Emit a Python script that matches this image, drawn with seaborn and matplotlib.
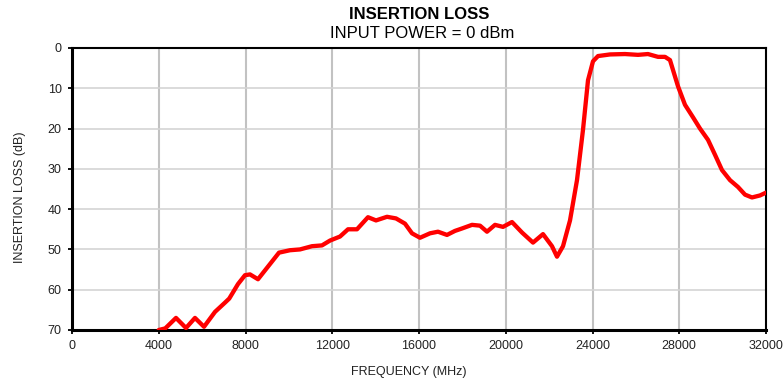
import matplotlib
matplotlib.use("Agg")
import matplotlib.pyplot as plt
import seaborn as sns
import pandas as pd

freq_mhz = [4000, 4300, 4795, 5257, 5670, 6087, 6594, 7055, 7250, 7654, 7977, 8207,
            8576, 8899, 9545, 10050, 10513, 11066, 11527, 11896, 12358, 12727, 13141,
            13648, 14017, 14524, 14939, 15354, 15677, 16046, 16507, 16876, 17291,
            17660, 17983, 18444, 18813, 19135, 19504, 19873, 20288, 20749, 21257,
            21718, 22133, 22363, 22640, 22963, 23285, 23562, 23793, 24023, 24254,
            24807, 25499, 26098, 26559, 27020, 27343, 27573, 27942, 28265, 28634,
            28957, 29326, 29648, 29971, 30340, 30709, 31032, 31354, 31723, 32000]
loss_db = [70.0, 69.6, 67.0, 69.5, 67.0, 69.2, 65.5, 63.2, 62.2, 58.6, 56.4, 56.2,
           57.4, 55.2, 50.8, 50.2, 50.0, 49.2, 49.0, 47.8, 46.8, 45.0, 45.0,
           42.0, 42.8, 41.9, 42.3, 43.6, 46.0, 47.1, 46.0, 45.6, 46.4,
           45.4, 44.8, 43.9, 44.1, 45.6, 43.9, 44.4, 43.2, 45.8, 48.3,
           46.2, 49.2, 51.8, 49.2, 42.8, 32.8, 20.3, 8.0, 3.3, 2.0,
           1.6, 1.5, 1.7, 1.5, 2.2, 2.2, 3.0, 9.5, 14.1, 17.2,
           20.0, 22.8, 26.5, 30.3, 32.8, 34.5, 36.4, 37.1, 36.6, 35.9]

x_ticks = [0, 4000, 8000, 12000, 16000, 20000, 24000, 28000, 32000]
y_ticks = [0, 10, 20, 30, 40, 50, 60, 70]

df = pd.DataFrame({"freq": freq_mhz, "loss": loss_db})

sns.set_theme(style="white")
plt.rcParams["font.family"] = ["Liberation Sans", "DejaVu Sans"]

fig = plt.figure(figsize=(7.84, 3.85), dpi=100)
ax = fig.add_axes([72/784, 1-330/385, 694/784, 282/385])

for xv in x_ticks[1:-1]:
    ax.axvline(xv, color="#c2c2c2", lw=1.5, zorder=1)
for yv in y_ticks[1:-1]:
    ax.axhline(yv, color="#d4d4d4", lw=1.2, zorder=1)

sns.lineplot(data=df, x="freq", y="loss", ax=ax, color="#ff0000", lw=3.1,
             zorder=3, solid_capstyle="round", solid_joinstyle="round")

ax.set_xlim(0, 32000)
ax.set_ylim(70, 0)
ax.set_xticks(x_ticks)
ax.set_yticks(y_ticks)
ax.set_xticklabels([str(v) for v in x_ticks])
ax.set_yticklabels([str(v) for v in y_ticks])
ax.tick_params(axis="both", labelsize=9, colors="black", labelcolor="#222222",
               length=3, width=1.3, direction="out", bottom=True, left=True)
ax.tick_params(axis="x", pad=4.5)
ax.tick_params(axis="y", pad=4.5)

for side in ["left", "bottom"]:
    ax.spines[side].set_linewidth(2.2)
    ax.spines[side].set_color("black")
for side in ["top", "right"]:
    ax.spines[side].set_linewidth(1.5)
    ax.spines[side].set_color("black")

ax.set_xlabel("FREQUENCY (MHz)", fontsize=9, color="#222222")
ax.set_ylabel("INSERTION LOSS (dB)", fontsize=9, color="#222222")
ax.xaxis.set_label_coords((409 - 72) / 694, -(366 - 330) / 282)
ax.yaxis.set_label_coords((26.5 - 72) / 694, (330 - 197) / 282)

fig.text(419/784, 1-19/385, "INSERTION LOSS", ha="center", va="baseline",
         fontsize=12, fontweight="bold", color="black")
fig.text(422/784, 1-38.5/385, "INPUT POWER = 0 dBm", ha="center", va="baseline",
         fontsize=12, color="black")

fig.savefig("out.png", dpi=100)
